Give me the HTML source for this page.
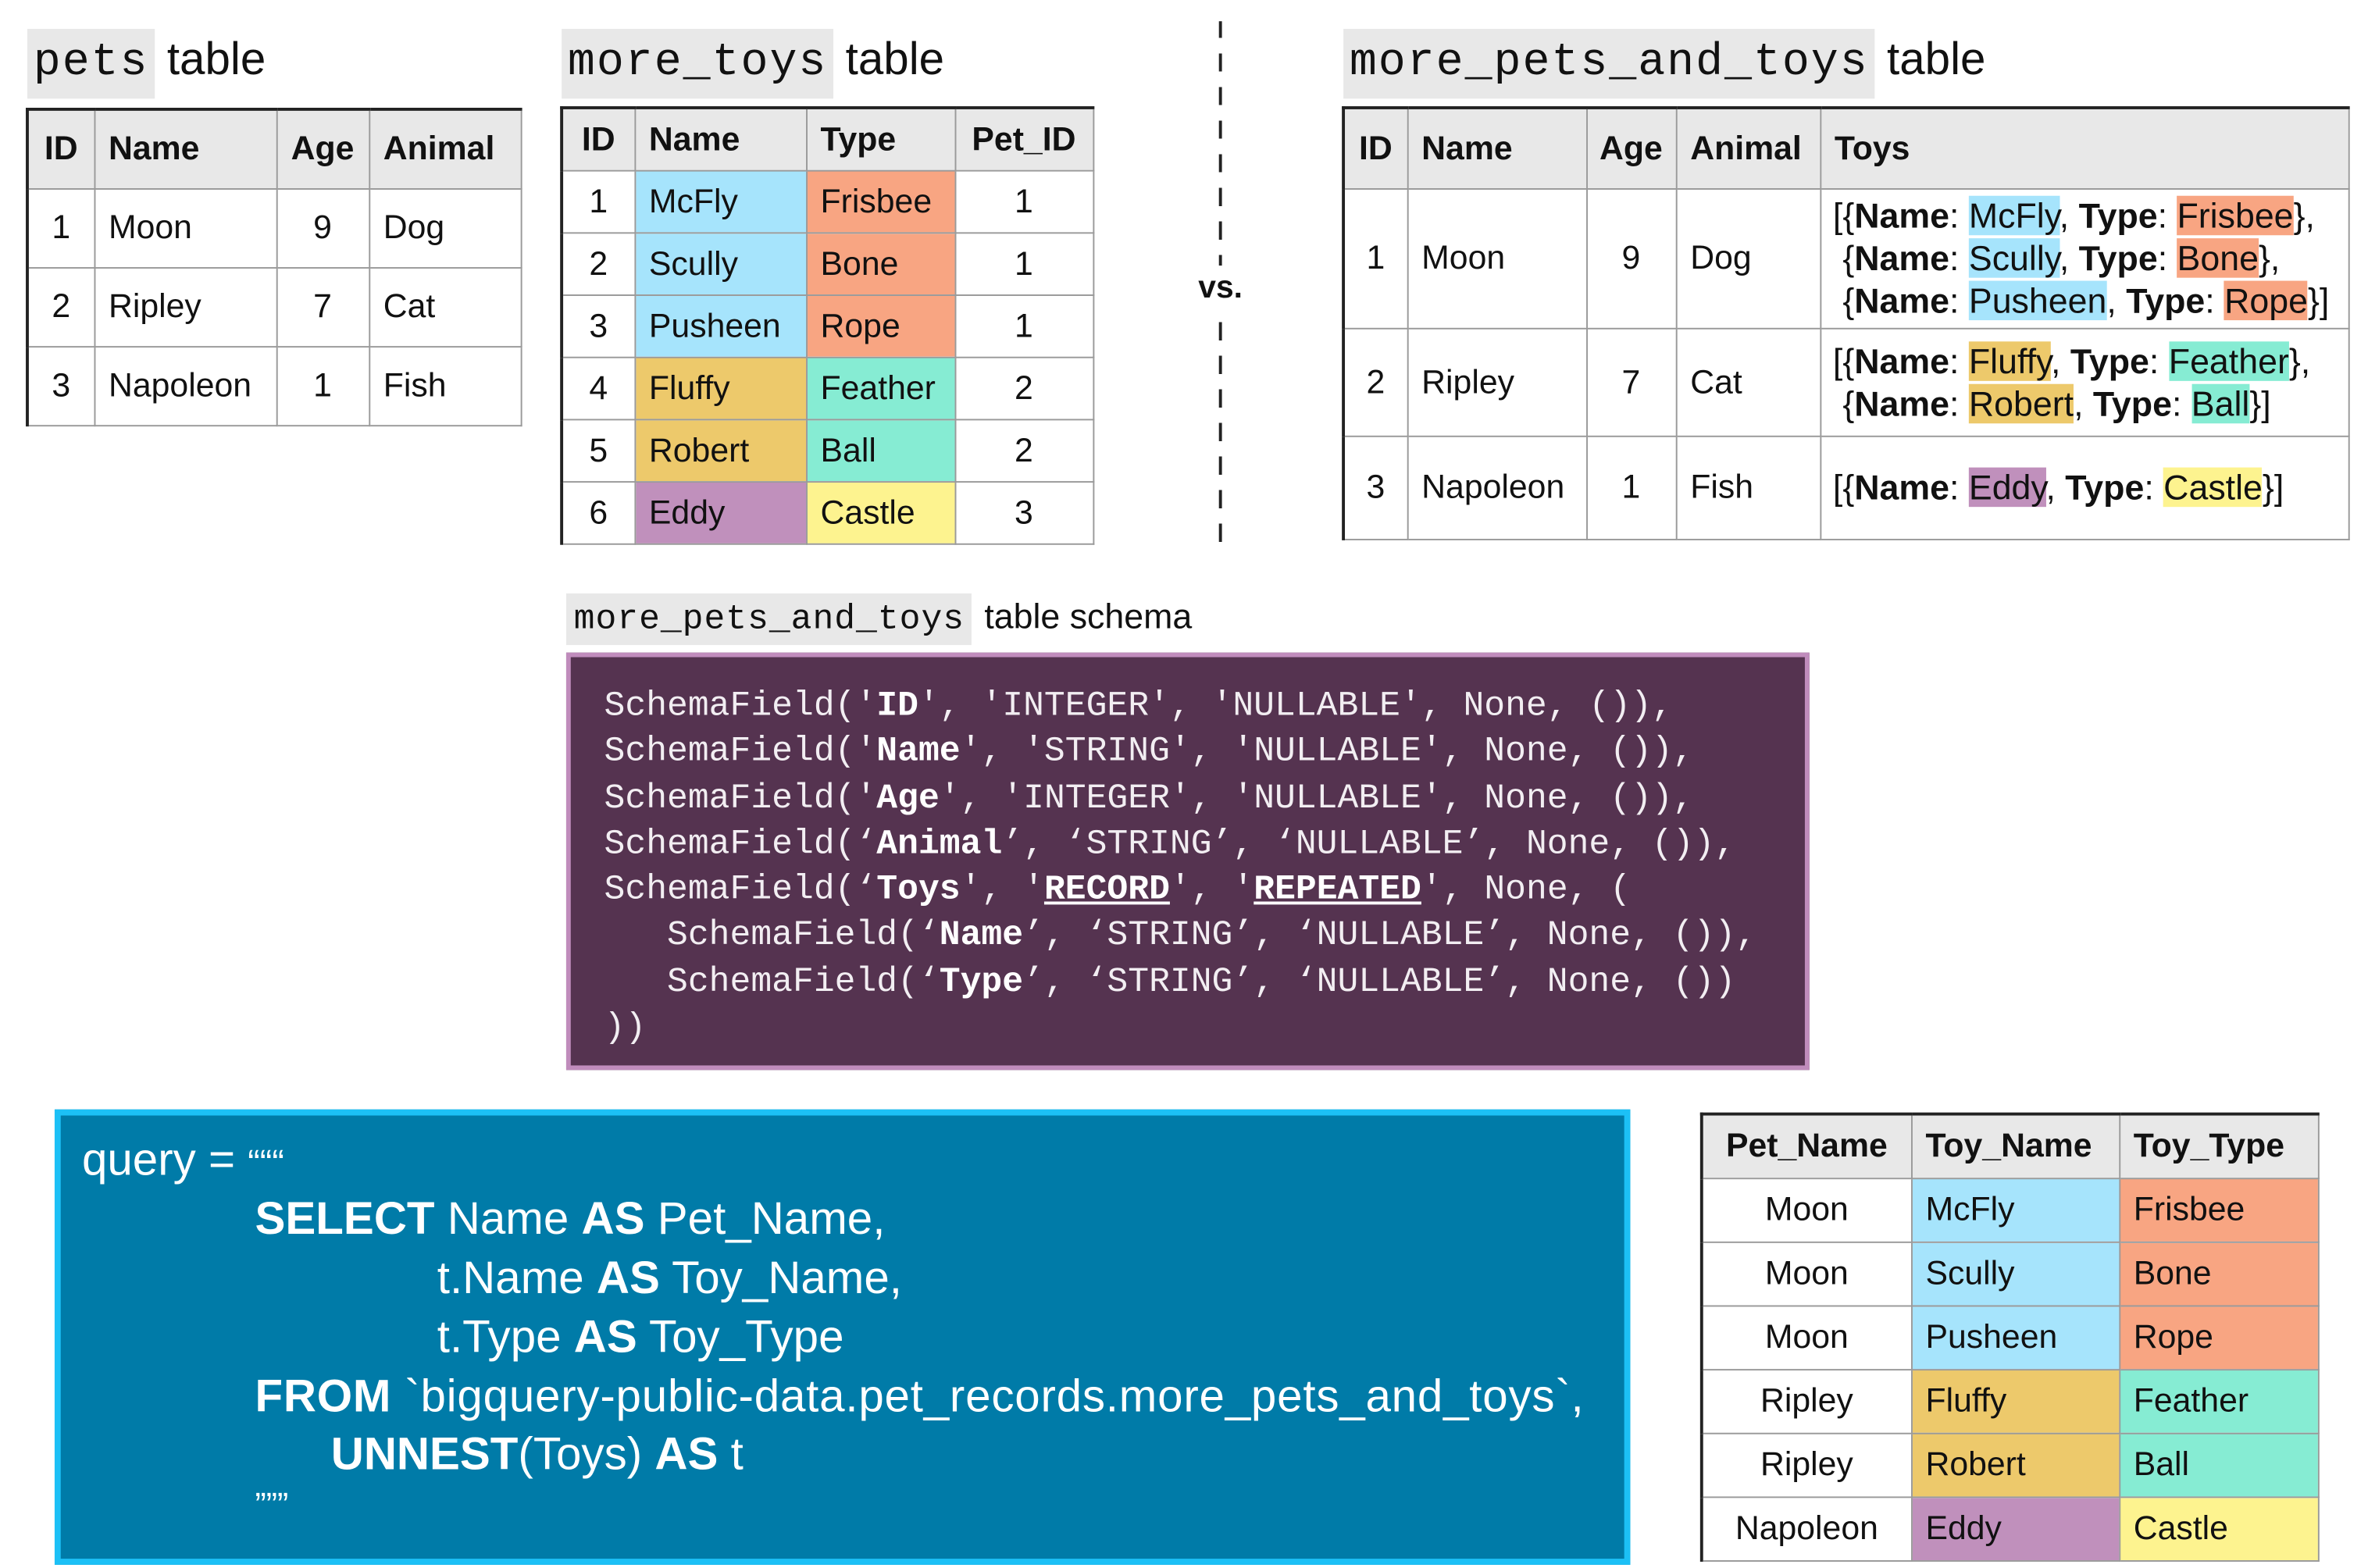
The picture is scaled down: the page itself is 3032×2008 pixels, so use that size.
<!DOCTYPE html>
<html><head><meta charset="utf-8"><style>
html,body{margin:0;padding:0;background:#fff;}
body{width:3032px;height:2008px;overflow:hidden;position:relative;}
#s{position:absolute;left:0;top:0;width:1560px;height:1033px;transform:scale(1.9436);transform-origin:0 0;font-family:"Liberation Sans",Arial,sans-serif;color:#111;}
.a{position:absolute;}
.lbl{position:absolute;font-size:30px;line-height:46px;white-space:nowrap;}
.lbl code{font-family:"Liberation Mono",monospace;background:#e8e8e8;padding:0 4px;display:inline-block;margin-right:8px;letter-spacing:1px;}
table{position:absolute;border-collapse:collapse;table-layout:fixed;font-size:22px;}
td{border:1px solid #9a9a9a;padding:0 0 0 9px;vertical-align:middle;white-space:nowrap;overflow:hidden;}
tr.h td{background:#e8e8e8;font-weight:bold;}
tr.h td{border-top:2px solid #222;}
tr td:first-child{border-left:2px solid #222;}
.c{text-align:center;padding:0;}
.bl{background:#a6e4fc}.sa{background:#f8a582}.yo{background:#edc96b}.te{background:#86ecd3}.pu{background:#c090bc}.ye{background:#fdf38f}
.toys{font-size:23px;line-height:28px;padding-left:8px;}
.schema{position:absolute;left:373px;top:430px;width:813px;height:269px;background:#553350;border:3px solid #c08cbc;}
.schema pre{margin:0;position:absolute;left:22px;top:17px;font-family:"Liberation Mono",monospace;font-size:23px;line-height:30.3px;color:#f2eef2;}
.schema b{color:#fff}
.q{position:absolute;left:36px;top:731px;width:1030px;height:292px;background:#007ba8;border:4px solid #1cc0f6;color:#fff;font-size:30px;}
.q div{position:absolute;white-space:nowrap;line-height:34px;}
</style></head><body><div id="s">

<div class="lbl" style="left:18px;top:17px"><code>pets</code>table</div>
<table style="left:17px;top:71px;width:325px">
<colgroup><col style="width:44px"><col style="width:120px"><col style="width:61px"><col style="width:100px"></colgroup>
<tr class="h" style="height:52px"><td class="c">ID</td><td>Name</td><td class="c">Age</td><td>Animal</td></tr>
<tr style="height:52px"><td class="c">1</td><td>Moon</td><td class="c">9</td><td>Dog</td></tr>
<tr style="height:52px"><td class="c">2</td><td>Ripley</td><td class="c">7</td><td>Cat</td></tr>
<tr style="height:52px"><td class="c">3</td><td>Napoleon</td><td class="c">1</td><td>Fish</td></tr>
</table>

<div class="lbl" style="left:370px;top:17px"><code>more_toys</code>table</div>
<table style="left:369px;top:70px;width:350px">
<colgroup><col style="width:48px"><col style="width:113px"><col style="width:98px"><col style="width:91px"></colgroup>
<tr class="h" style="height:41px"><td class="c">ID</td><td>Name</td><td>Type</td><td class="c">Pet_ID</td></tr>
<tr style="height:41px"><td class="c">1</td><td class="bl">McFly</td><td class="sa">Frisbee</td><td class="c">1</td></tr>
<tr style="height:41px"><td class="c">2</td><td class="bl">Scully</td><td class="sa">Bone</td><td class="c">1</td></tr>
<tr style="height:41px"><td class="c">3</td><td class="bl">Pusheen</td><td class="sa">Rope</td><td class="c">1</td></tr>
<tr style="height:41px"><td class="c">4</td><td class="yo">Fluffy</td><td class="te">Feather</td><td class="c">2</td></tr>
<tr style="height:41px"><td class="c">5</td><td class="yo">Robert</td><td class="te">Ball</td><td class="c">2</td></tr>
<tr style="height:41px"><td class="c">6</td><td class="pu">Eddy</td><td class="ye">Castle</td><td class="c">3</td></tr>
</table>

<div class="a" style="left:803px;top:14px;width:0;height:346px;border-left:2px dashed #222;border-image:repeating-linear-gradient(#222 0 12px,transparent 12px 22px) 1;"></div>
<div class="a" style="left:785px;top:175px;width:38px;height:30px;background:#fff;font-weight:bold;font-size:21px;line-height:30px;text-align:center">vs.</div>

<div class="lbl" style="left:885px;top:17px"><code>more_pets_and_toys</code>table</div>
<table style="left:884px;top:70px;width:662px">
<colgroup><col style="width:42px"><col style="width:118px"><col style="width:59px"><col style="width:95px"><col style="width:348px"></colgroup>
<tr class="h" style="height:53px"><td class="c">ID</td><td>Name</td><td class="c">Age</td><td>Animal</td><td>Toys</td></tr>
<tr style="height:92px"><td class="c">1</td><td>Moon</td><td class="c">9</td><td>Dog</td><td class="toys">[{<b>Name</b>: <span class="bl">McFly</span>, <b>Type</b>: <span class="sa">Frisbee</span>},<br>&nbsp;{<b>Name</b>: <span class="bl">Scully</span>, <b>Type</b>: <span class="sa">Bone</span>},<br>&nbsp;{<b>Name</b>: <span class="bl">Pusheen</span>, <b>Type</b>: <span class="sa">Rope</span>}]</td></tr>
<tr style="height:71px"><td class="c">2</td><td>Ripley</td><td class="c">7</td><td>Cat</td><td class="toys">[{<b>Name</b>: <span class="yo">Fluffy</span>, <b>Type</b>: <span class="te">Feather</span>},<br>&nbsp;{<b>Name</b>: <span class="yo">Robert</span>, <b>Type</b>: <span class="te">Ball</span>}]</td></tr>
<tr style="height:68px"><td class="c">3</td><td>Napoleon</td><td class="c">1</td><td>Fish</td><td class="toys">[{<b>Name</b>: <span class="pu">Eddy</span>, <b>Type</b>: <span class="ye">Castle</span>}]</td></tr>
</table>

<div class="lbl" style="left:373px;top:389px;font-size:23px;line-height:34px"><code style="padding:0 5px;letter-spacing:0.5px">more_pets_and_toys</code>table schema</div>
<div class="schema"><pre>SchemaField('<b>ID</b>', 'INTEGER', 'NULLABLE', None, ()),
SchemaField('<b>Name</b>', 'STRING', 'NULLABLE', None, ()),
SchemaField('<b>Age</b>', 'INTEGER', 'NULLABLE', None, ()),
SchemaField(‘<b>Animal</b>’, ‘STRING’, ‘NULLABLE’, None, ()),
SchemaField(‘<b>Toys</b>', '<b><u>RECORD</u></b>', '<b><u>REPEATED</u></b>', None, (
   SchemaField(‘<b>Name</b>’, ‘STRING’, ‘NULLABLE’, None, ()),
   SchemaField(‘<b>Type</b>’, ‘STRING’, ‘NULLABLE’, None, ())
))</pre></div>

<div class="q">
<div style="left:14px;top:13px">query = <span style="font-size:24px">“““</span></div>
<div style="left:128px;top:52px"><b>SELECT</b> Name <b>AS</b> Pet_Name,</div>
<div style="left:248px;top:91px">t.Name <b>AS</b> Toy_Name,</div>
<div style="left:248px;top:130px">t.Type <b>AS</b> Toy_Type</div>
<div style="left:128px;top:169px;letter-spacing:0.4px"><b>FROM</b> `bigquery-public-data.pet_records.more_pets_and_toys`,</div>
<div style="left:178px;top:207px"><b>UNNEST</b>(Toys) <b>AS</b> t</div>
<div style="left:128px;top:240px;font-size:22px">”””</div>
</div>

<table style="left:1120px;top:733px;width:406px">
<colgroup><col style="width:138px"><col style="width:137px"><col style="width:131px"></colgroup>
<tr class="h" style="height:42px"><td class="c">Pet_Name</td><td>Toy_Name</td><td>Toy_Type</td></tr>
<tr style="height:42px"><td class="c">Moon</td><td class="bl">McFly</td><td class="sa">Frisbee</td></tr>
<tr style="height:42px"><td class="c">Moon</td><td class="bl">Scully</td><td class="sa">Bone</td></tr>
<tr style="height:42px"><td class="c">Moon</td><td class="bl">Pusheen</td><td class="sa">Rope</td></tr>
<tr style="height:42px"><td class="c">Ripley</td><td class="yo">Fluffy</td><td class="te">Feather</td></tr>
<tr style="height:42px"><td class="c">Ripley</td><td class="yo">Robert</td><td class="te">Ball</td></tr>
<tr style="height:42px"><td class="c">Napoleon</td><td class="pu">Eddy</td><td class="ye">Castle</td></tr>
</table>

</div></body></html>
